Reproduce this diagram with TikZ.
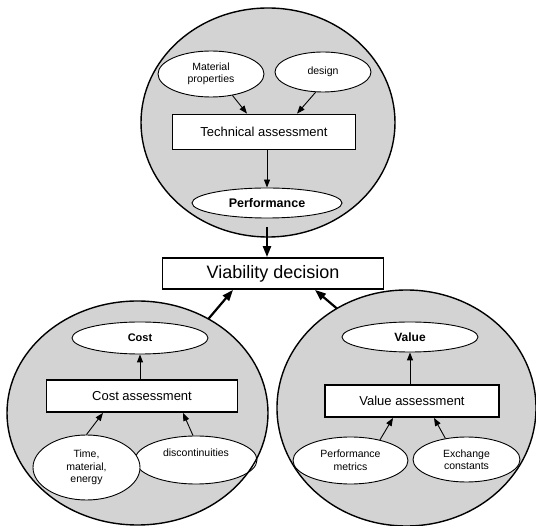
\documentclass[tikz,border=0pt]{standalone}
\usepackage{fontspec}
\setmainfont{Liberation Sans}
\usetikzlibrary{shapes.geometric,arrows.meta}
\definecolor{zonegray}{RGB}{211,211,211}
\begin{document}
\begin{tikzpicture}[x=1pt,y=-1pt,
  zone/.style={ellipse,inner sep=0pt,fill=zonegray},
  zoneline/.style={line width=1.4pt},
  input/.style={ellipse,draw,fill=white,inner sep=0pt,line width=0.9pt,
    font=\fontsize{10.5}{12.5}\selectfont,align=center},
  outcome/.style={ellipse,draw,fill=white,inner sep=0pt,line width=0.9pt,
    font=\fontsize{12.5}{15}\selectfont\bfseries},
  task/.style={rectangle,draw,fill=white,inner sep=0pt,line width=1.8pt,
    font=\fontsize{13}{15}\selectfont},
  link/.style={-{Triangle[length=8pt,width=6pt]},line width=0.9pt},
  mainlink/.style={-{Triangle[length=11pt,width=8pt]},line width=2.2pt},
]
\useasboundingbox (0,0) rectangle (536,526);

% grey zones
\node[zone,minimum width=254pt,minimum height=229pt] (topzone) at (268,122.5) {};
\node[zone,minimum width=261pt,minimum height=224pt] (costzone) at (137.5,413) {};
\node[zone,minimum width=259pt,minimum height=236pt] (valuezone) at (406.5,408) {};

% technical branch
\node[input,minimum width=106pt,minimum height=46pt] (mat) at (211,74) {Material\\properties};
\node[input,minimum width=96pt,minimum height=40pt] (des) at (323,72) {design};
\node[task,minimum width=183pt,minimum height=35pt] (tech) at (264,132) {Technical assessment};
\node[outcome,minimum width=150pt,minimum height=30pt] (perf) at (267,203) {Performance};

% decision
\node[task,minimum width=221pt,minimum height=31pt,font=\fontsize{18}{21}\selectfont] (viab) at (273,273.5) {Viability decision};

% cost branch
\node[outcome,minimum width=136pt,minimum height=32pt,font=\fontsize{11}{13}\selectfont\bfseries] (cost) at (140,338) {Cost};
\node[task,minimum width=191pt,minimum height=32pt] (costbox) at (142,396) {Cost assessment};
\node[input,minimum width=122pt,minimum height=48pt] (disc) at (196,460) {};
\node[font=\fontsize{10.5}{12.5}\selectfont,inner sep=0pt] (disctext) at (196,453) {discontinuities};
\node[input,minimum width=107pt,minimum height=65pt] (time) at (86.5,467.5) {Time,\\material,\\energy};

% value branch
\node[outcome,minimum width=136pt,minimum height=30pt,font=\fontsize{12}{14}\selectfont\bfseries] (value) at (410,337) {Value};
\node[task,minimum width=174pt,minimum height=32pt] (valbox) at (412,401) {Value assessment};
\node[input,minimum width=115pt,minimum height=47pt] (pm) at (350.5,460.5) {Performance\\metrics};
\node[input,minimum width=107pt,minimum height=45pt] (ex) at (466.5,459.5) {Exchange\\constants};

% zone outlines on top
\draw[zoneline] (topzone.center) ellipse [x radius=127, y radius=114.5];
\draw[zoneline] (costzone.center) ellipse [x radius=130.5, y radius=112];
\draw[zoneline] (valuezone.center) ellipse [x radius=129.5, y radius=118];

% connectors
\draw[link] (mat.-45) -- ([xshift=-17pt]tech.north);
\draw[link] (des.-110) -- ([xshift=33pt]tech.north);
\draw[link] (perf.north |- tech.south) -- (perf.north);
\draw[mainlink] ([yshift=-9pt]perf.south) -- (perf.south |- viab.north);

\draw[link] (cost.south |- costbox.north) -- (cost.south);
\draw[link] (time.north) -- ([xshift=-39pt]costbox.south);
\draw[link] ([xshift=-3pt]disc.north) -- ([xshift=41pt]costbox.south);
\draw[mainlink] (costzone.53) -- ([xshift=-40pt]viab.south);

\draw[link] (value.south |- valbox.north) -- (value.south);
\draw[link] (pm.35) -- ([xshift=-19pt]valbox.south);
\draw[link] (ex.135) -- ([xshift=22pt]valbox.south);
\draw[mainlink] (valuezone.125) -- ([xshift=42pt]viab.south);
\end{tikzpicture}
\end{document}
